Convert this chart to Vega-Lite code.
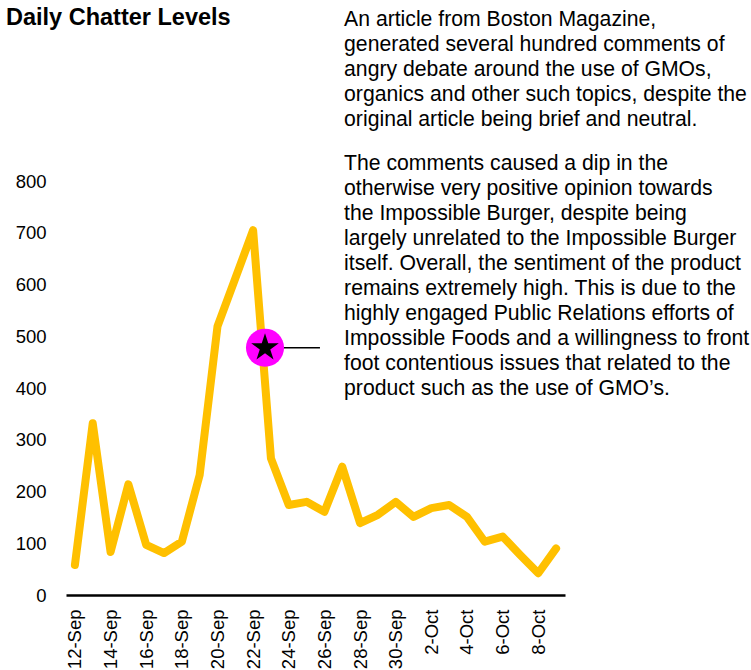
{
  "$schema": "https://vega.github.io/schema/vega-lite/v6.json",
  "autosize": "none",
  "width": 499,
  "height": 595,
  "padding": {"left": 66, "top": 0, "right": 186, "bottom": 75},
  "background": "white",
  "config": {
    "font": "Liberation Sans",
    "view": {"stroke": null}
  },
  "datasets": {
    "chatter": [
      {"date": "2018-09-12T00:00", "value": 58},
      {"date": "2018-09-13T00:00", "value": 332},
      {"date": "2018-09-14T00:00", "value": 83},
      {"date": "2018-09-15T00:00", "value": 214},
      {"date": "2018-09-16T00:00", "value": 97},
      {"date": "2018-09-17T00:00", "value": 81},
      {"date": "2018-09-18T00:00", "value": 103},
      {"date": "2018-09-19T00:00", "value": 232},
      {"date": "2018-09-20T00:00", "value": 519},
      {"date": "2018-09-21T00:00", "value": 612},
      {"date": "2018-09-22T00:00", "value": 705},
      {"date": "2018-09-23T00:00", "value": 264},
      {"date": "2018-09-24T00:00", "value": 174},
      {"date": "2018-09-25T00:00", "value": 180},
      {"date": "2018-09-26T00:00", "value": 161},
      {"date": "2018-09-27T00:00", "value": 248},
      {"date": "2018-09-28T00:00", "value": 139},
      {"date": "2018-09-29T00:00", "value": 155},
      {"date": "2018-09-30T00:00", "value": 180},
      {"date": "2018-10-01T00:00", "value": 151},
      {"date": "2018-10-02T00:00", "value": 168},
      {"date": "2018-10-03T00:00", "value": 174},
      {"date": "2018-10-04T00:00", "value": 151},
      {"date": "2018-10-05T00:00", "value": 103},
      {"date": "2018-10-06T00:00", "value": 113},
      {"date": "2018-10-07T00:00", "value": 77},
      {"date": "2018-10-08T00:00", "value": 42},
      {"date": "2018-10-09T00:00", "value": 90}
    ],
    "marker": [
      {"date": "2018-09-22T16:00", "end": "2018-09-25T18:00", "value": 478}
    ],
    "heading": [
      {"date": "2018-09-08T03:10", "value": 1101.7, "text": "Daily Chatter Levels"}
    ],
    "notes": [
      {"date": "2018-09-27T02:30", "value": 1099.7, "text": ["An article from Boston Magazine,", "generated several hundred comments of", "angry debate around the use of GMOs,", "organics and other such topics, despite the", "original article being brief and neutral."]},
      {"date": "2018-09-27T02:30", "value": 821.4, "text": ["The comments caused a dip in the", "otherwise very positive opinion towards", "the Impossible Burger, despite being", "largely unrelated to the Impossible Burger", "itself. Overall, the sentiment of the product", "remains extremely high. This is due to the", "highly engaged Public Relations efforts of", "Impossible Foods and a willingness to front", "foot contentious issues that related to the", "product such as the use of GMO\u2019s."]}
    ]
  },
  "encoding": {
    "x": {
      "field": "date",
      "type": "temporal",
      "title": null,
      "scale": {"domain": [{"year": 2018, "month": 9, "date": 11, "hours": 12}, {"year": 2018, "month": 10, "date": 9, "hours": 12}]},
      "axis": {
        "values": [
          {"year": 2018, "month": 9, "date": 12}, {"year": 2018, "month": 9, "date": 14}, {"year": 2018, "month": 9, "date": 16},
          {"year": 2018, "month": 9, "date": 18}, {"year": 2018, "month": 9, "date": 20}, {"year": 2018, "month": 9, "date": 22},
          {"year": 2018, "month": 9, "date": 24}, {"year": 2018, "month": 9, "date": 26}, {"year": 2018, "month": 9, "date": 28},
          {"year": 2018, "month": 9, "date": 30}, {"year": 2018, "month": 10, "date": 2}, {"year": 2018, "month": 10, "date": 4},
          {"year": 2018, "month": 10, "date": 6}, {"year": 2018, "month": 10, "date": 8}
        ],
        "format": "%-d-%b",
        "labelAngle": -90,
        "labelFontSize": 18.5,
        "labelColor": "black",
        "labelPadding": 14,
        "ticks": false,
        "tickSize": 0,
        "grid": false,
        "domainColor": "black",
        "domainWidth": 2.5,
        "labelOverlap": false
      }
    },
    "y": {
      "field": "value",
      "type": "quantitative",
      "title": null,
      "scale": {"domain": [0, 1150], "nice": false, "zero": true},
      "axis": {
        "values": [0, 100, 200, 300, 400, 500, 600, 700, 800],
        "labelFontSize": 18.5,
        "labelColor": "black",
        "labelPadding": 20,
        "ticks": false,
        "tickSize": 0,
        "domain": false,
        "grid": false
      }
    }
  },
  "layer": [
    {
      "data": {"name": "chatter"},
      "mark": {"type": "line", "color": "#FFC000", "strokeWidth": 8, "strokeJoin": "round", "strokeCap": "round"}
    },
    {
      "data": {"name": "marker"},
      "mark": {"type": "rule", "color": "black", "strokeWidth": 1.5},
      "encoding": {"x2": {"field": "end"}}
    },
    {
      "data": {"name": "marker"},
      "mark": {"type": "point", "shape": "circle", "filled": true, "color": "#FF00FF", "size": 1452, "opacity": 1}
    },
    {
      "data": {"name": "marker"},
      "mark": {"type": "point", "shape": "M0,-1L0.225,-0.309L0.951,-0.309L0.363,0.118L0.588,0.809L0,0.382L-0.588,0.809L-0.363,0.118L-0.951,-0.309L-0.225,-0.309Z", "filled": true, "color": "black", "size": 841, "opacity": 1}
    },
    {
      "data": {"name": "heading"},
      "mark": {"type": "text", "align": "left", "baseline": "alphabetic", "fontSize": 23.5, "fontWeight": "bold", "color": "black"},
      "encoding": {"text": {"field": "text", "type": "nominal"}}
    },
    {
      "data": {"name": "notes"},
      "mark": {"type": "text", "align": "left", "baseline": "alphabetic", "fontSize": 21.2, "lineHeight": 25, "color": "black"},
      "encoding": {"text": {"field": "text", "type": "nominal"}}
    }
  ]
}
